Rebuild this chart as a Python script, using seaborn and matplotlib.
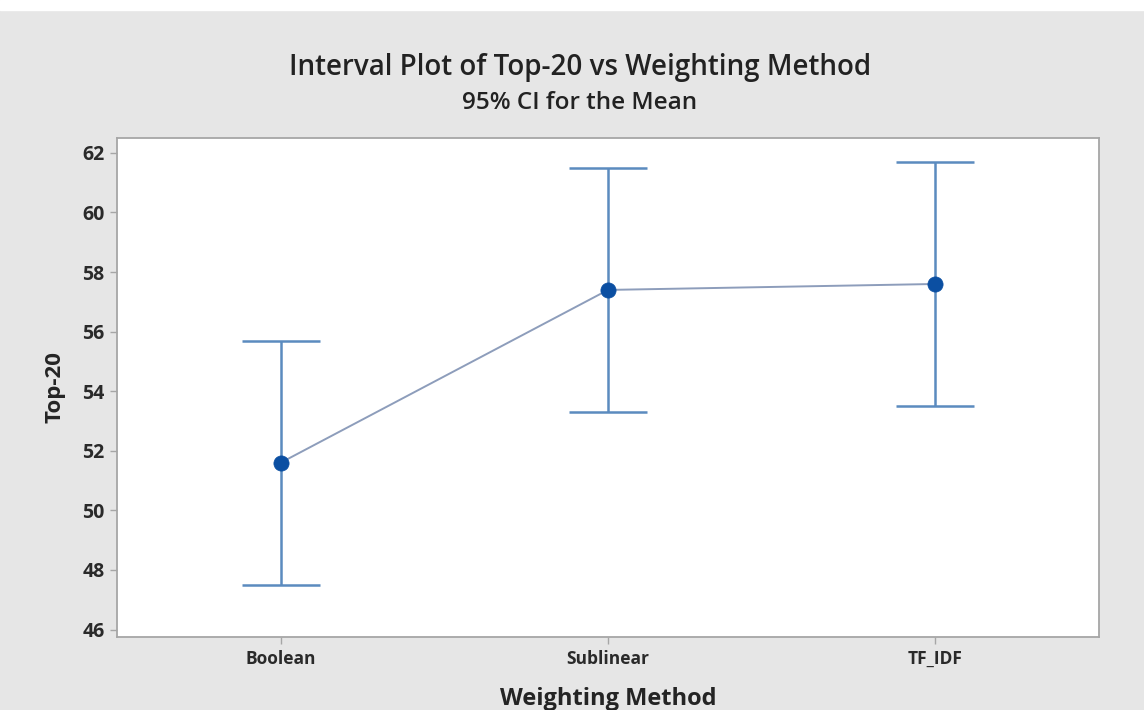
import numpy as np
import pandas as pd
import matplotlib
matplotlib.use("Agg")
import matplotlib.pyplot as plt
import seaborn as sns

# Interval plot data: group means with 95% confidence limits
methods = ["Boolean", "Sublinear", "TF_IDF"]
means = [51.6, 57.4, 57.6]
ci_lower = [47.5, 53.3, 53.5]
ci_upper = [55.7, 61.5, 61.7]
y_ticks = [46, 48, 50, 52, 54, 56, 58, 60, 62]

df = pd.DataFrame({"method": methods, "mean": means,
                   "lower": ci_lower, "upper": ci_upper})

sns.set_theme(style="white")
plt.rcParams["font.family"] = ["Open Sans", "DejaVu Sans"]

bg = "#e6e6e6"
fig = plt.figure(figsize=(11.44, 7.10), dpi=100, facecolor=bg)
ax = fig.add_axes([117 / 1144, 1 - 637 / 710, (1099 - 117) / 1144, (637 - 138) / 710])
ax.set_facecolor("white")

x = np.arange(len(methods))

# connecting line through the means
sns.lineplot(data=df, x="method", y="mean", ax=ax, color="#8d9dbb",
             linewidth=1.4, sort=False, zorder=2)

# confidence intervals with caps
ax.errorbar(x, df["mean"],
            yerr=[df["mean"] - df["lower"], df["upper"] - df["mean"]],
            fmt="none", ecolor="#5b8bbf", elinewidth=1.8, capsize=28,
            capthick=1.8, zorder=3)

# mean markers
sns.scatterplot(data=df, x="method", y="mean", ax=ax, color="#0b4fa2",
                s=120, edgecolor="#0b4fa2", linewidth=0.5, zorder=4)

ax.set_xlim(-0.5, 2.5)
ax.set_ylim(45.75, 62.5)
ax.set_yticks(y_ticks)
ax.set_xticks(x)
ax.set_xticklabels(methods)

for side in ax.spines.values():
    side.set_color("#a6a6a6")
    side.set_linewidth(1.3)

ax.tick_params(axis="both", which="major", direction="out", length=5,
               width=1, color="#a6a6a6", labelcolor="#2a2a2a", pad=4,
               left=True, bottom=True)
ax.tick_params(axis="x", labelsize=12.5)
ax.tick_params(axis="y", labelsize=14)
for lab in ax.get_xticklabels() + ax.get_yticklabels():
    lab.set_fontweight("bold")

ax.set_xlabel("Weighting Method", fontsize=17, fontweight="bold",
              color="#242424", labelpad=14)
ax.set_ylabel("Top-20", fontsize=16, fontweight="bold",
              color="#242424", labelpad=12)

fig.text(0.507, 1 - 67 / 710, "Interval Plot of Top-20 vs Weighting Method",
         ha="center", va="center", fontsize=20, fontweight="semibold",
         color="#222222")
fig.text(0.507, 1 - 103 / 710, "95% CI for the Mean",
         ha="center", va="center", fontsize=17.5, fontweight="semibold",
         color="#222222")

# white strip along the top edge of the canvas
fig.patches.append(plt.Rectangle((0, 1 - 10 / 710), 1, 10 / 710,
                                 transform=fig.transFigure, color="white",
                                 zorder=-1))

fig.savefig("out.png", dpi=100, facecolor=bg)
